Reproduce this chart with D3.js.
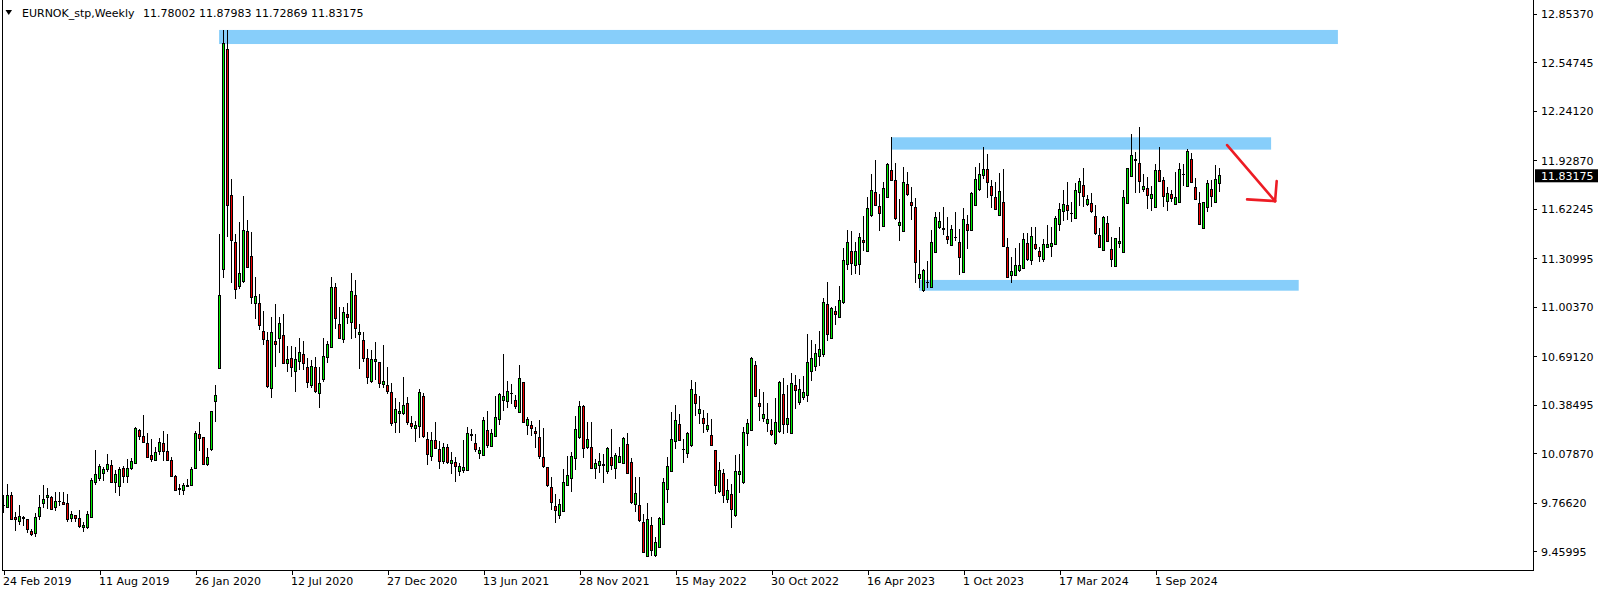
<!DOCTYPE html>
<html><head><meta charset="utf-8">
<script src="https://cdn.jsdelivr.net/npm/d3@7"></script>
<style>html,body{margin:0;padding:0;background:#fff;overflow:hidden}</style>
</head><body>
<svg id="c" width="1604" height="594"></svg>
<script>
const symbolTitle = "EURNOK_stp,Weekly";
const startDate = "2019-02-24";
const opens = [9.748,9.736,9.814,9.671,9.650,9.669,9.658,9.586,9.574,9.679,9.763,9.801,9.801,9.736,9.774,9.769,9.763,9.666,9.683,9.664,9.612,9.609,9.673,9.896,9.921,9.953,9.974,10.003,9.896,9.868,9.984,9.932,9.982,10.016,10.220,10.184,10.144,10.062,10.035,10.089,10.138,10.092,10.035,9.932,9.853,9.845,9.870,9.875,9.984,10.199,10.176,10.007,10.100,10.405,
10.616,11.241,12.631,11.705,11.412,11.132,11.164,11.481,11.323,11.025,11.027,10.850,10.793,10.490,10.787,10.806,10.825,10.648,10.677,10.595,10.658,10.705,10.618,10.509,10.622,10.458,10.545,10.686,10.749,11.128,10.894,10.799,10.953,10.907,11.077,10.831,10.793,10.679,10.532,10.660,10.650,10.515,10.509,10.464,
10.273,10.332,10.332,10.395,10.269,10.237,10.250,10.439,10.163,10.058,10.157,10.106,10.029,10.113,10.016,10.022,9.965,9.970,9.972,10.193,10.144,10.079,10.064,10.226,10.121,10.186,10.290,10.412,10.408,10.454,10.414,10.338,10.523,10.256,10.256,10.214,10.176,10.054,9.991,9.864,9.744,9.688,9.711,9.877,9.919,10.048,10.180,10.372,10.113,10.113,9.982,10.004,10.005,
9.966,10.054,9.985,10.022,10.016,10.136,10.022,9.757,9.751,9.644,9.427,9.625,9.431,9.486,9.631,9.852,9.966,10.155,10.262,10.104,10.077,10.128,10.452,10.332,10.300,10.231,10.193,10.094,9.837,9.953,9.789,9.820,9.686,9.942,9.894,10.203,10.225,10.635,10.395,10.296,10.267,10.220,10.142,10.218,10.452,10.258,10.206,10.509,10.401,10.433,
10.445,10.597,10.626,10.689,10.702,11.020,10.803,10.976,10.938,11.030,11.273,11.355,11.266,11.273,11.426,11.355,11.580,11.727,11.639,11.510,11.696,11.866,11.803,11.517,11.479,11.778,11.664,11.632,11.182,11.106,11.156,11.125,11.348,11.506,11.500,11.449,11.390,11.440,11.411,11.222,11.525,11.485,11.645,11.744,11.832,11.872,11.765,11.696,11.582,11.664,
11.380,11.203,11.203,11.233,11.247,11.405,11.298,11.399,11.355,11.304,11.380,11.388,11.399,11.525,11.607,11.645,11.594,11.563,11.727,11.771,11.651,11.658,11.576,11.456,11.361,11.531,11.367,11.260,11.405,11.348,11.658,11.828,11.930,11.910,11.744,11.752,11.689,11.632,11.866,11.803,11.670,11.715,11.651,11.664,11.840,11.765,11.936,11.759,11.658,11.498,11.633,11.747,11.662,11.78002];
const highs = [9.816,9.883,9.833,9.710,9.751,9.681,9.662,9.601,9.702,9.814,9.877,9.858,9.809,9.833,9.833,9.833,9.822,9.717,9.689,9.721,9.647,9.715,9.925,10.100,10.009,9.995,10.075,10.037,9.974,9.990,9.999,10.045,10.052,10.245,10.235,10.323,10.205,10.172,10.121,10.174,10.218,10.201,10.054,9.942,9.883,9.889,9.919,9.995,10.222,10.275,10.180,10.110,10.346,10.510,
11.465,12.753,12.753,11.810,11.462,11.540,11.705,11.551,11.477,11.193,11.084,10.978,10.846,10.940,11.020,10.938,10.957,10.757,10.757,10.751,10.808,10.787,10.679,10.669,10.690,10.627,10.808,10.789,11.193,11.153,11.004,11.004,11.027,11.218,11.172,10.894,10.844,10.738,10.732,10.783,10.656,10.764,10.625,10.524,
10.426,10.405,10.563,10.433,10.315,10.281,10.485,10.460,10.216,10.216,10.277,10.157,10.142,10.140,10.085,10.058,10.020,10.161,10.243,10.231,10.199,10.121,10.306,10.346,10.235,10.441,10.462,10.706,10.534,10.517,10.445,10.637,10.532,10.306,10.281,10.248,10.288,10.237,9.995,9.928,9.822,9.789,9.982,10.060,10.090,10.315,10.408,10.382,10.277,10.277,10.043,10.079,10.075,
10.119,10.233,10.079,10.117,10.180,10.206,10.050,9.932,9.932,9.696,9.763,9.675,9.553,9.675,9.926,10.054,10.342,10.385,10.328,10.170,10.214,10.542,10.530,10.441,10.355,10.332,10.294,10.096,10.022,9.980,9.917,9.886,10.071,10.075,10.243,10.294,10.686,10.664,10.483,10.465,10.395,10.298,10.429,10.536,10.555,10.509,10.584,10.576,10.547,10.567,
10.831,10.795,10.767,10.852,11.058,11.159,11.005,11.007,11.136,11.376,11.487,11.483,11.411,11.470,11.576,11.698,11.843,11.931,11.717,11.792,11.910,12.075,11.912,11.685,11.887,11.856,11.759,11.689,11.365,11.245,11.294,11.487,11.601,11.601,11.635,11.571,11.519,11.601,11.494,11.628,11.586,11.729,11.885,11.915,12.013,11.971,11.805,11.792,11.849,11.875,
11.437,11.321,11.374,11.405,11.468,11.468,11.506,11.506,11.380,11.430,11.519,11.506,11.578,11.658,11.742,11.792,11.666,11.786,11.816,11.879,11.708,11.721,11.645,11.502,11.576,11.578,11.447,11.441,11.506,11.742,11.883,12.093,11.982,12.140,11.843,11.822,11.767,11.906,12.013,11.822,11.763,11.740,11.856,11.910,11.904,11.999,11.974,11.816,11.729,11.668,11.806,11.806,11.898,11.87983];
const lows = [9.704,9.733,9.660,9.590,9.624,9.622,9.574,9.559,9.553,9.656,9.732,9.729,9.723,9.713,9.746,9.755,9.647,9.645,9.647,9.607,9.584,9.599,9.668,9.881,9.904,9.906,9.963,9.894,9.831,9.812,9.894,9.894,9.974,10.014,10.163,10.146,10.052,10.026,10.030,10.068,10.033,10.033,9.930,9.843,9.818,9.818,9.866,9.872,9.978,10.096,10.003,10.001,10.096,10.279,
10.614,11.189,11.448,11.157,11.052,11.115,11.157,11.250,11.020,10.926,10.856,10.761,10.490,10.431,10.627,10.715,10.646,10.595,10.564,10.463,10.606,10.606,10.490,10.490,10.458,10.368,10.532,10.648,10.745,10.863,10.799,10.778,10.896,10.799,10.806,10.610,10.654,10.515,10.526,10.543,10.494,10.490,10.454,10.250,
10.205,10.210,10.323,10.260,10.233,10.153,10.174,10.174,10.008,10.033,10.105,9.978,10.012,10.012,9.949,9.900,9.936,9.957,9.970,10.155,10.090,10.041,10.062,10.111,10.117,10.184,10.258,10.349,10.363,10.391,10.361,10.336,10.273,10.195,10.189,10.115,10.043,9.984,9.869,9.721,9.641,9.667,9.709,9.875,9.837,9.976,10.172,10.052,10.104,9.978,9.919,9.953,9.890,
9.947,9.974,9.915,10.016,10.014,9.947,9.761,9.711,9.648,9.448,9.425,9.431,9.427,9.484,9.629,9.768,9.964,10.109,10.155,10.020,10.048,10.121,10.317,10.265,10.206,10.214,10.126,9.825,9.831,9.768,9.768,9.606,9.679,9.829,9.888,10.126,10.223,10.435,10.281,10.279,10.216,10.189,10.130,10.206,10.201,10.206,10.204,10.357,10.382,10.416,
10.405,10.538,10.601,10.633,10.689,10.786,10.799,10.892,10.936,11.024,11.239,11.203,11.214,11.207,11.355,11.353,11.574,11.643,11.481,11.508,11.694,11.797,11.555,11.422,11.475,11.706,11.550,11.153,11.125,11.098,11.121,11.123,11.346,11.494,11.456,11.403,11.386,11.418,11.203,11.220,11.371,11.483,11.643,11.736,11.814,11.689,11.630,11.616,11.576,11.384,
11.184,11.153,11.199,11.226,11.241,11.296,11.268,11.363,11.289,11.289,11.374,11.321,11.393,11.481,11.548,11.550,11.538,11.561,11.643,11.637,11.639,11.595,11.456,11.374,11.359,11.411,11.258,11.258,11.374,11.346,11.656,11.826,11.723,11.721,11.729,11.624,11.607,11.630,11.790,11.632,11.607,11.666,11.645,11.658,11.769,11.759,11.788,11.677,11.523,11.494,11.603,11.637,11.660,11.72869];
const closes = [9.750,9.814,9.662,9.662,9.677,9.671,9.595,9.567,9.675,9.738,9.788,9.814,9.725,9.776,9.776,9.757,9.662,9.694,9.666,9.616,9.620,9.694,9.904,9.946,9.997,9.974,10.009,9.896,9.946,9.974,9.932,9.984,10.024,10.233,10.184,10.148,10.054,10.037,10.087,10.150,10.092,10.035,9.932,9.845,9.855,9.877,9.877,9.976,10.207,10.172,10.007,10.054,10.344,10.441,
11.077,12.669,11.643,11.425,11.115,11.216,11.488,11.254,11.065,11.067,10.888,10.799,10.503,10.844,10.768,10.900,10.648,10.673,10.622,10.673,10.713,10.648,10.526,10.627,10.471,10.521,10.690,10.768,11.128,10.932,10.804,10.970,10.936,11.103,10.869,10.844,10.679,10.559,10.673,10.673,10.521,10.534,10.471,10.270,
10.353,10.340,10.378,10.275,10.250,10.256,10.460,10.184,10.073,10.157,10.109,10.029,10.113,10.020,10.031,9.995,9.993,9.987,10.207,10.195,10.104,10.094,10.283,10.128,10.201,10.306,10.452,10.435,10.471,10.456,10.376,10.553,10.275,10.294,10.235,10.203,10.058,9.997,9.875,9.770,9.717,9.753,9.892,9.940,10.060,10.231,10.376,10.111,10.163,9.982,10.012,10.030,10.007,
10.107,10.004,10.067,10.060,10.174,9.951,9.768,9.827,9.654,9.452,9.662,9.467,9.513,9.665,9.896,9.997,10.163,10.288,10.161,10.106,10.206,10.483,10.395,10.353,10.269,10.252,10.128,9.875,9.972,9.814,9.846,9.724,9.966,9.966,10.212,10.269,10.675,10.437,10.374,10.326,10.294,10.199,10.275,10.528,10.260,10.298,10.521,10.475,10.483,10.464,
10.654,10.679,10.711,10.732,11.033,10.831,10.995,10.955,11.045,11.298,11.411,11.279,11.355,11.445,11.409,11.626,11.740,11.645,11.595,11.752,11.900,11.801,11.561,11.538,11.790,11.715,11.645,11.283,11.211,11.235,11.158,11.411,11.569,11.544,11.494,11.428,11.494,11.442,11.317,11.557,11.487,11.721,11.809,11.841,11.872,11.790,11.706,11.620,11.734,11.388,
11.190,11.228,11.266,11.266,11.430,11.302,11.449,11.371,11.323,11.399,11.399,11.405,11.559,11.620,11.651,11.614,11.596,11.740,11.797,11.702,11.683,11.607,11.466,11.380,11.569,11.418,11.304,11.437,11.418,11.696,11.879,11.961,11.932,11.797,11.765,11.708,11.715,11.866,11.797,11.702,11.721,11.689,11.696,11.872,11.842,11.986,11.790,11.683,11.527,11.664,11.785,11.700,11.810,11.83175];
const priceTicks = [12.85370,12.54745,12.24120,11.92870,11.62245,11.30995,11.00370,10.69120,10.38495,10.07870,9.76620,9.45995];
const dateTickLabels = ["24 Feb 2019","11 Aug 2019","26 Jan 2020","12 Jul 2020","27 Dec 2020","13 Jun 2021","28 Nov 2021","15 May 2022","30 Oct 2022","16 Apr 2023","1 Oct 2023","17 Mar 2024","1 Sep 2024"];
// zones: start/end in bar index, top/bottom in price
const zoneStart = [53.9, 222.05, 228.95];
const zoneEnd = [333.6, 316.9, 323.8];
const zoneTop = [12.753, 12.075, 11.174];
const zoneBottom = [12.664, 11.997, 11.106];
// arrow annotation in (bar index, price)
const arrowShaft = [[305.9, 12.026], [317.9, 11.672]];
const arrowBarbA = [[310.9, 11.683], [317.9, 11.672]];
const arrowBarbB = [[318.3, 11.799], [317.9, 11.672]];

const FONT = "DejaVu Sans";
const svg = d3.select("#c");
const n = opens.length;
const x = d3.scaleLinear().domain([0, n - 1]).range([3.5, 3.5 + 4 * (n - 1)]);
const y = d3.scaleLinear().domain([9.45995, 12.85370]).range([551.3, 14]);
const plotLeft = 2, plotRight = 1533;

// zones
const zg = svg.append("g");
zoneStart.forEach((s, i) => {
  zg.append("rect").attr("x", x(s)).attr("y", y(zoneTop[i]))
    .attr("width", x(zoneEnd[i]) - x(s)).attr("height", y(zoneBottom[i]) - y(zoneTop[i]))
    .attr("fill", "#87cefa");
});

// candles
const cg = svg.append("g").attr("shape-rendering", "crispEdges");
const GREEN = "#00f000", RED = "#f00000";
for (let i = 0; i < n; i++) {
  const xc = x(i);
  const yh = y(highs[i]), yl = y(lows[i]);
  const yo = y(opens[i]), yc = y(closes[i]);
  cg.append("rect").attr("x", xc - 0.5).attr("y", yh).attr("width", 1).attr("height", Math.max(1, yl - yh)).attr("fill", "#000");
  const top = Math.min(yo, yc), bot = Math.max(yo, yc);
  cg.append("rect").attr("x", xc - 1.5).attr("y", top - 0.5).attr("width", 3).attr("height", Math.max(1, bot - top + 1)).attr("fill", "#000");
  if (bot - top > 1.2) {
    cg.append("rect").attr("x", xc - 0.5).attr("y", top + 0.5).attr("width", 1).attr("height", bot - top - 1)
      .attr("fill", closes[i] >= opens[i] ? GREEN : RED);
  }
}

// arrow
const line = d3.line().x(d => x(d[0])).y(d => y(d[1]));
[arrowShaft, arrowBarbA, arrowBarbB].forEach(seg => {
  svg.append("path").attr("d", line(seg)).attr("stroke", "#ed1c24").attr("stroke-width", 2.6)
    .attr("stroke-linecap", "round").attr("fill", "none");
});

// frame
const fg = svg.append("g").attr("shape-rendering", "crispEdges");
fg.append("line").attr("x1", plotLeft + 0.5).attr("x2", plotLeft + 0.5).attr("y1", 0).attr("y2", 571).attr("stroke", "#000");
fg.append("line").attr("x1", plotRight + 0.5).attr("x2", plotRight + 0.5).attr("y1", 0).attr("y2", 571).attr("stroke", "#000");
fg.append("line").attr("x1", plotLeft).attr("x2", plotRight + 1).attr("y1", 570.5).attr("y2", 570.5).attr("stroke", "#000");

// right price axis
const yAxis = d3.axisRight(y).tickValues(priceTicks).tickSize(3).tickFormat(d3.format(".5f"));
const ya = svg.append("g").attr("transform", `translate(${plotRight + 0.5},0)`).call(yAxis);
ya.select(".domain").remove();
ya.selectAll("line").attr("stroke", "#000").attr("shape-rendering", "crispEdges");
ya.selectAll("text").attr("x", 7.5).attr("dy", "0.36em").attr("fill", "#000")
  .attr("font-family", FONT).attr("font-size", "11px").attr("text-anchor", "start");

// current price label
const last = closes[n - 1];
svg.append("rect").attr("x", 1535).attr("y", y(last) - 6.5).attr("width", 63).attr("height", 13).attr("fill", "#000");
svg.append("text").attr("x", 1541).attr("y", y(last)).attr("dy", "0.36em").attr("fill", "#fff")
  .attr("font-family", FONT).attr("font-size", "11px").text(d3.format(".5f")(last));

// bottom date axis
const t0 = new Date(startDate + "T00:00:00Z");
const parseLbl = d3.utcParse("%e %b %Y");
const tickIdx = dateTickLabels.map(s => Math.round((parseLbl(s) - t0) / (7 * 864e5)));
const xAxis = d3.axisBottom(x).tickValues(tickIdx).tickSize(4).tickFormat((d, i) => dateTickLabels[i]);
const xa = svg.append("g").attr("transform", `translate(0,${570.5})`).call(xAxis);
xa.select(".domain").remove();
xa.selectAll("line").attr("stroke", "#000").attr("shape-rendering", "crispEdges");
xa.selectAll("text").attr("y", 14.5).attr("dy", 0).attr("text-anchor", "start").attr("dx", -1)
  .attr("fill", "#000").attr("font-family", FONT).attr("font-size", "11px");

// header
svg.append("path").attr("d", "M5.5,10 L12,10 L8.75,15 Z").attr("fill", "#000");
svg.append("text").attr("x", 22).attr("y", 16.5).attr("font-family", FONT).attr("font-size", "11px").attr("fill", "#000")
  .text(symbolTitle);
svg.append("text").attr("x", 143).attr("y", 16.5).attr("font-family", FONT).attr("font-size", "11px").attr("fill", "#000")
  .text([opens[n-1], highs[n-1], lows[n-1], closes[n-1]].map(d3.format(".5f")).join(" "));
</script>
</body></html>
